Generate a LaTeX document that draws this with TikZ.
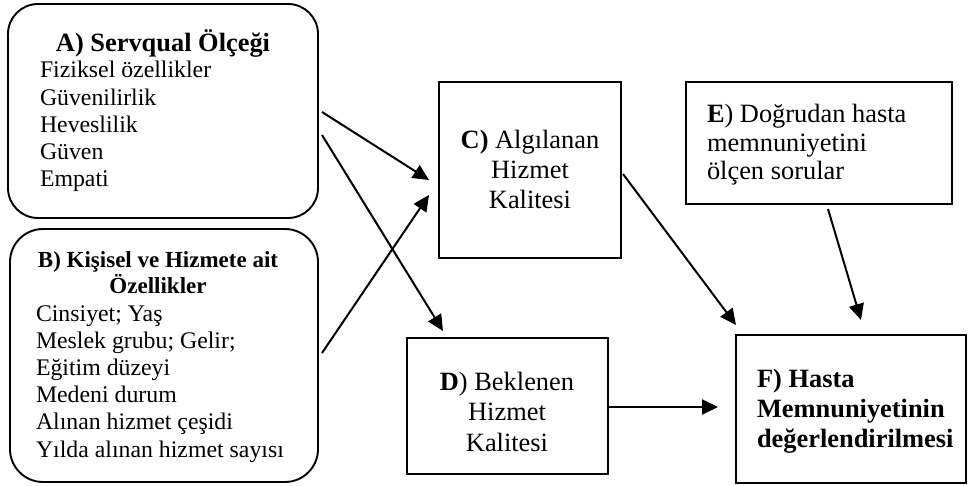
\documentclass[tikz,border=0pt]{standalone}
\usepackage{fontspec}
\setmainfont{Liberation Serif}
\usetikzlibrary{arrows.meta,calc}
\begin{document}
\begin{tikzpicture}[x=1pt,y=-1pt,
  every node/.style={inner sep=0pt,outer sep=0pt},
  box/.style={draw,line width=1.9pt},
  rbox/.style={box,rounded corners=30pt},
  link/.style={line width=2pt,-{Triangle[length=16pt,width=15pt]}},
  big/.style={font=\fontsize{26.4}{30}\selectfont},
  bigbold/.style={font=\fontsize{26.4}{30}\selectfont\bfseries},
  small/.style={font=\fontsize{23.8}{27}\selectfont},
  smallbold/.style={font=\fontsize{23}{27}\selectfont\bfseries}
]
\useasboundingbox (0,0) rectangle (969,486);

% frames
\node[rbox, minimum width=310pt, minimum height=214pt] (A) at (163,111) {};
\node[rbox, rounded corners=33pt, minimum width=308pt, minimum height=253pt] (B) at (164,355.5) {};
\node[box, minimum width=182pt, minimum height=176pt] (C) at (530,170) {};
\node[box, minimum width=201pt, minimum height=136pt] (D) at (507.5,406) {};
\node[box, minimum width=266pt, minimum height=122pt] (E) at (819,143) {};
\node[box, minimum width=230pt, minimum height=148pt] (F) at (851,409) {};

% A) Servqual
\node[bigbold, anchor=base] (At) at (163,52) {A) Servqual Ölçeği};
\foreach \txt [count=\i] in {Fiziksel özellikler,Güvenilirlik,Heveslilik,Güven,Empati}
  \node[small, anchor=base west] (A\i) at (40,{78+27.2*(\i-1)}) {\txt};

% B) personal and service features
\node[smallbold, anchor=base] (Bt1) at (158,268) {B) Kişisel ve Hizmete ait};
\node[smallbold, anchor=base] (Bt2) at (158,294) {Özellikler};
\foreach \txt [count=\i] in {Cinsiyet; Yaş,Meslek grubu; Gelir;,Eğitim düzeyi,Medeni durum,Alınan hizmet çeşidi,Yılda alınan hizmet sayısı}
  \node[small, anchor=base west] (B\i) at (36,{321+27.2*(\i-1)}) {\txt};

% C) perceived quality
\node[big, anchor=base] (C1) at (530,149) {\textbf{C)} Algılanan};
\node[big, anchor=base] (C2) at (530,179) {Hizmet};
\node[big, anchor=base] (C3) at (530,209) {Kalitesi};

% D) expected quality
\node[big, anchor=base] (D1) at (507,390) {\textbf{D}) Beklenen};
\node[big, anchor=base] (D2) at (507,420.5) {Hizmet};
\node[big, anchor=base] (D3) at (507,451) {Kalitesi};

% E) direct questions
\node[big, anchor=base west] (E1) at (707,123) {\textbf{E}) Doğrudan hasta};
\node[big, anchor=base west] (E2) at (707,151.5) {memnuniyetini};
\node[big, anchor=base west] (E3) at (707,180) {ölçen sorular};

% F) evaluation
\node[bigbold, anchor=base west] (F1) at (757,387) {F) Hasta};
\node[bigbold, anchor=base west] (F2) at (757,417) {Memnuniyetinin};
\node[bigbold, anchor=base west] (F3) at (757,447) {değerlendirilmesi};

% connectors
\draw[link] ($(A.east)+(4,1)$) -- ($(C.west)+(-10,10)$);
\draw[link] ($(A.east)+(4,24)$) -- ($(D.north west)+(36,-7)$);
\draw[link] ($(B.east)+(4,-2.5)$) -- ($(C.west)+(-10,25)$);
\draw[link] ($(C.east)+(2,4)$) -- ($(F.north west)+(0,-10)$);
\draw[link] ($(E.south)+(9,5)$) -- ($(F.north)+(10,-15)$);
\draw[link] ($(D.east)+(0,1)$) -- ($(F.west)+(-18,-2)$);
\end{tikzpicture}
\end{document}
